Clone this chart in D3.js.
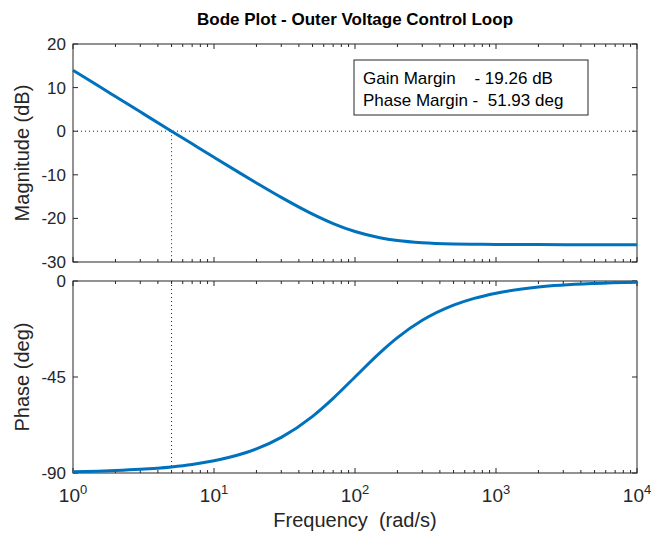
<!DOCTYPE html>
<html>
<head>
<meta charset="utf-8">
<script src="https://cdn.jsdelivr.net/npm/d3@7"></script>
<style>
  body { margin: 0; background: #fff; }
  text { font-family: "Liberation Sans", Arial, Helvetica, sans-serif; fill: #262626; }
</style>
</head>
<body>
<script>
// frequency points (rad/s) and values
var freq = [1, 1.5, 2, 3, 5, 7, 10, 15, 20, 30, 50, 70, 100, 150, 200, 300, 500, 700, 1000, 2000, 5000, 10000];
var magDb = [14.0, 10.46, 7.96, 4.44, 0.01, -2.9, -5.98, -9.45, -11.87, -15.19, -19.03, -21.19, -23.01, -24.42, -25.05, -25.56, -25.85, -25.93, -25.98, -26.01, -26.02, -26.02];
var phaseDeg = [-89.43, -89.14, -88.85, -88.28, -87.14, -86.0, -84.29, -81.47, -78.69, -73.3, -63.43, -55.0, -45.0, -33.7, -26.57, -18.43, -11.31, -8.13, -5.71, -2.86, -1.15, -0.57];
var magTicks = [20, 10, 0, -10, -20, -30];
var phaseTicks = [0, -45, -90];
var decades = [1, 10, 100, 1000, 10000];
var crossFreq = 5.0;
var crossPhase = -87.14;
var marginText = ["Gain Margin    - 19.26 dB", "Phase Margin -  51.93 deg"];

var W = 653, H = 533;
var left = 73, right = 637;
var magTop = 44, magBot = 262;
var phTop = 281, phBot = 473;

var svg = d3.select("body").append("svg")
  .attr("width", W)
  .attr("height", H);

var x = d3.scaleLog().domain([1, 10000]).range([left, right]);
var yMag = d3.scaleLinear().domain([-30, 20]).range([magBot, magTop]);
var yPh = d3.scaleLinear().domain([-90, 0]).range([phBot, phTop]);

var magData = freq.map(function(f, i) { return {f: f, v: magDb[i]}; });
var phData = freq.map(function(f, i) { return {f: f, v: phaseDeg[i]}; });

// minor tick positions
var minor = [];
for (var d = 1; d < 10000; d *= 10) {
  for (var k = 2; k <= 9; k++) minor.push(d * k);
}

function drawAxes(y, top, bot, yticks) {
  var g = svg.append("g");
  // x ticks top and bottom
  decades.forEach(function(f) {
    g.append("line").attr("x1", x(f)).attr("x2", x(f)).attr("y1", bot).attr("y2", bot - 5)
      .attr("stroke", "#262626").attr("stroke-width", 1);
    g.append("line").attr("x1", x(f)).attr("x2", x(f)).attr("y1", top).attr("y2", top + 5)
      .attr("stroke", "#262626").attr("stroke-width", 1);
  });
  minor.forEach(function(f) {
    g.append("line").attr("x1", x(f)).attr("x2", x(f)).attr("y1", bot).attr("y2", bot - 3)
      .attr("stroke", "#262626").attr("stroke-width", 1);
    g.append("line").attr("x1", x(f)).attr("x2", x(f)).attr("y1", top).attr("y2", top + 3)
      .attr("stroke", "#262626").attr("stroke-width", 1);
  });
  // y ticks left and right
  yticks.forEach(function(v) {
    g.append("line").attr("x1", left).attr("x2", left + 5).attr("y1", y(v)).attr("y2", y(v))
      .attr("stroke", "#262626");
    g.append("line").attr("x1", right).attr("x2", right - 5).attr("y1", y(v)).attr("y2", y(v))
      .attr("stroke", "#262626");
    g.append("text").attr("x", left - 7).attr("y", y(v)).attr("dy", "0.35em")
      .attr("text-anchor", "end").style("font-size", "17px").text(v);
  });
  g.append("rect").attr("x", left).attr("y", top).attr("width", right - left).attr("height", bot - top)
    .attr("fill", "none").attr("stroke", "#262626").attr("stroke-width", 1);
}

var line = function(y) {
  return d3.line()
    .x(function(d) { return x(d.f); })
    .y(function(d) { return y(d.v); })
    .curve(d3.curveMonotoneX);
};

// magnitude panel
drawAxes(yMag, magTop, magBot, magTicks);
svg.append("line").attr("x1", left).attr("x2", right).attr("y1", yMag(0)).attr("y2", yMag(0))
  .attr("stroke", "#222").attr("stroke-dasharray", "1,3");
svg.append("line").attr("x1", x(crossFreq)).attr("x2", x(crossFreq)).attr("y1", yMag(0)).attr("y2", magBot)
  .attr("stroke", "#222").attr("stroke-dasharray", "1,3");
svg.append("path").datum(magData)
  .attr("fill", "none").attr("stroke", "#0072BD").attr("stroke-width", 3)
  .attr("d", line(yMag));

// phase panel
drawAxes(yPh, phTop, phBot, phaseTicks);
svg.append("line").attr("x1", x(crossFreq)).attr("x2", x(crossFreq)).attr("y1", phTop).attr("y2", yPh(crossPhase))
  .attr("stroke", "#222").attr("stroke-dasharray", "1,3");
svg.append("path").datum(phData)
  .attr("fill", "none").attr("stroke", "#0072BD").attr("stroke-width", 3)
  .attr("d", line(yPh));

// x tick labels with exponent
decades.forEach(function(f, i) {
  var t = svg.append("text").attr("x", x(f)).attr("y", 502)
    .attr("text-anchor", "middle").style("font-size", "19px");
  t.append("tspan").text("10");
  t.append("tspan").attr("dy", -8).style("font-size", "13px").text(i);
});

// margin box
svg.append("rect").attr("x", 354).attr("y", 60).attr("width", 234).attr("height", 55)
  .attr("fill", "#fff").attr("stroke", "#262626");
marginText.forEach(function(s, i) {
  svg.append("text").attr("x", 363).attr("y", 84 + i * 22)
    .style("font-size", "17px").style("white-space", "pre").style("fill", "#000").text(s);
});

// title and labels
svg.append("text").attr("x", 355).attr("y", 25).attr("text-anchor", "middle")
  .style("font-size", "17px").style("font-weight", "bold").style("fill", "#000")
  .text("Bode Plot - Outer Voltage Control Loop");
svg.append("text").attr("x", 355).attr("y", 527).attr("text-anchor", "middle")
  .style("font-size", "20px").style("white-space", "pre").text("Frequency  (rad/s)");
svg.append("text").attr("transform", "translate(29," + (magTop + magBot) / 2 + ") rotate(-90)")
  .attr("text-anchor", "middle").style("font-size", "20px").text("Magnitude (dB)");
svg.append("text").attr("transform", "translate(29," + (phTop + phBot) / 2 + ") rotate(-90)")
  .attr("text-anchor", "middle").style("font-size", "20px").text("Phase (deg)");
</script>
</body>
</html>
